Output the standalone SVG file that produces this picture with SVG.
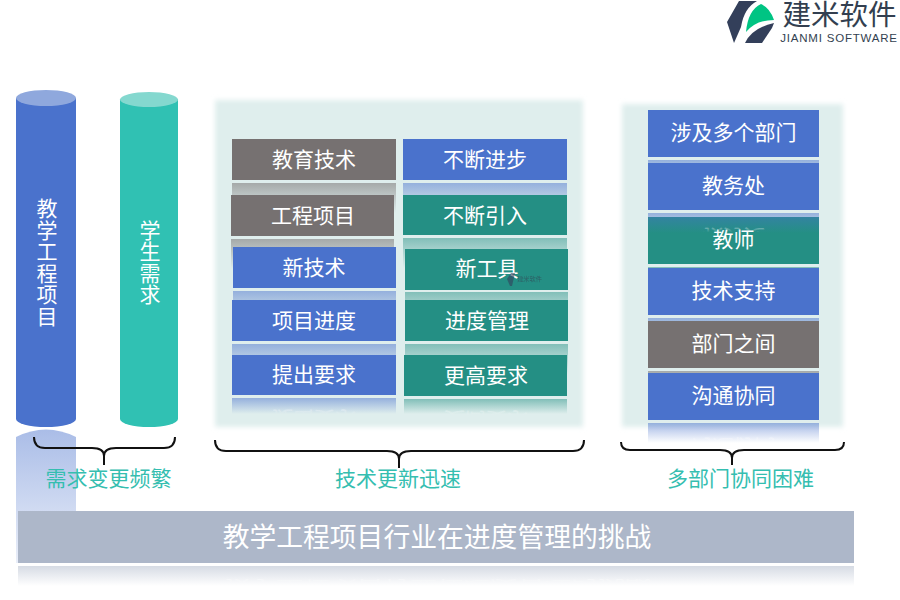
<svg xmlns="http://www.w3.org/2000/svg" width="900" height="600" viewBox="0 0 900 600">
<style>
text{font-family:"Noto Sans CJK SC","Liberation Sans",sans-serif;text-anchor:middle}
.t{font-size:21px;fill:#fff}
.v{font-size:21px;fill:#fff;writing-mode:vertical-rl;letter-spacing:.5px}
.m{font-size:21px;fill:url(#ft)}
.l{font-size:21px;fill:#35BEB0}
.gray{fill:#767171}.blue{fill:#4A72CC}.teal{fill:#248F84}
.rg{fill:url(#rg)}.rb{fill:url(#rb)}.rt{fill:url(#rt)}
.brace{fill:none;stroke:#111;stroke-width:2}
</style>
<defs>
<linearGradient id="ft" x1="0" y1="0" x2="0" y2="1"><stop offset=".72" stop-color="#fff" stop-opacity="0"/><stop offset="1" stop-color="#fff" stop-opacity=".6"/></linearGradient>
<linearGradient id="rg" x1="0" y1="0" x2="0" y2="1"><stop offset="0" stop-color="#767171" stop-opacity=".55"/><stop offset="1" stop-color="#767171" stop-opacity="0"/></linearGradient>
<linearGradient id="rb" x1="0" y1="0" x2="0" y2="1"><stop offset="0" stop-color="#4A72CC" stop-opacity=".5"/><stop offset="1" stop-color="#4A72CC" stop-opacity="0"/></linearGradient>
<linearGradient id="rt" x1="0" y1="0" x2="0" y2="1"><stop offset="0" stop-color="#248F84" stop-opacity=".5"/><stop offset="1" stop-color="#248F84" stop-opacity="0"/></linearGradient>
<linearGradient id="rbar" x1="0" y1="0" x2="0" y2="1"><stop offset="0" stop-color="#ADB7C9" stop-opacity=".5"/><stop offset="1" stop-color="#ADB7C9" stop-opacity="0"/></linearGradient>
<linearGradient id="rcyl" x1="0" y1="0" x2="0" y2="1"><stop offset="0" stop-color="#4A72CC" stop-opacity=".47"/><stop offset="1" stop-color="#4A72CC" stop-opacity=".12"/></linearGradient>
<filter id="soft" x="-5%" y="-5%" width="110%" height="110%"><feGaussianBlur stdDeviation="2.500"/></filter>
</defs>
<rect width="900" height="600" fill="#fff"/>

<g id="logo">
<path d="M727 22L739 1L757 1Q744 8 741 27L734 43Z" fill="#333F5A"/>
<path d="M746 32Q748 10 761 4Q770 8 774 20Q756 20 746 32Z" fill="#00C483"/>
<path d="M745 43Q752 28 774 23L772 28L762 43Z" fill="#333F5A"/>
<text x="839.500" y="25" style="font-size:28.500px;fill:#333F50">建米软件</text>
<text x="839" y="42" style="font-size:11.500px;letter-spacing:.8px;fill:#333F50;font-family:'Liberation Sans',sans-serif">JIANMI SOFTWARE</text>
</g>

<g id="cyl-reflection">
<path d="M16 437Q46 422 76 437V563H16Z" fill="url(#rcyl)"/>
</g>

<g id="cyl-project">
<path d="M16 98V419A30 8 0 0 0 76 419V98Z" class="blue"/>
<ellipse cx="46" cy="98" rx="30" ry="8" fill="#8FA8DD"/>
<text class="v" x="47" y="262.500">教学工程项目</text>
</g>
<g id="cyl-students">
<path d="M120 99V419A29 8 0 0 0 178 419V99Z" fill="#30C1B3"/>
<ellipse cx="149" cy="99.500" rx="29" ry="7.500" fill="#84D8CF"/>
<text class="v" x="150" y="262.500">学生需求</text>
</g>

<rect id="panel-tech" x="215" y="100" width="368" height="327" fill="#DFEEED" filter="url(#soft)"/>
<rect id="panel-dept" x="622" y="104" width="221" height="323" fill="#DFEEED" filter="url(#soft)"/>

<g id="node-jiaoyu"><rect x="232" y="183" width="164" height="30" class="rg"/><text class="m" x="314" y="166.500" transform="matrix(1 0 0 -1 0 365)">教育技术</text><rect x="232" y="139" width="164" height="41" class="gray"/><text class="t" x="314" y="166.500">教育技术</text></g>
<g id="node-buduan"><rect x="403" y="183" width="164" height="30" class="rb"/><text class="m" x="485" y="166.500" transform="matrix(1 0 0 -1 0 365)">不断进步</text><rect x="403" y="139" width="164" height="41" class="blue"/><text class="t" x="485" y="166.500">不断进步</text></g>
<g id="node-gongcheng"><rect x="231" y="239" width="163" height="30" class="rg"/><text class="m" x="313" y="222.500" transform="matrix(1 0 0 -1 0 477)">工程项目</text><rect x="231" y="195" width="163" height="41" class="gray"/><text class="t" x="313" y="222.500">工程项目</text></g>
<g id="node-yinru"><rect x="403" y="238" width="164" height="30" class="rt"/><text class="m" x="485" y="222.500" transform="matrix(1 0 0 -1 0 475)">不断引入</text><rect x="403" y="195" width="164" height="40" class="teal"/><text class="t" x="485" y="222.500">不断引入</text></g>
<g id="node-xinjishu"><rect x="233" y="291" width="163" height="30" class="rb"/><rect x="233" y="247" width="163" height="41" class="blue"/><text class="t" x="314" y="274.500">新技术</text></g>
<g id="node-xingongju"><rect x="405" y="292" width="163" height="30" class="rt"/><rect x="405" y="249" width="163" height="41" class="teal"/><text class="t" x="487" y="275.500">新工具</text>
<path d="M507 279L511 273L515 273L512 286L510 286Z" fill="#333F5A" opacity=".6"/><text x="529.500" y="281" style="font-size:6.200px;fill:#333F50" opacity=".6">建米软件</text></g>
<g id="node-jindu"><rect x="232" y="344" width="164" height="30" class="rb"/><rect x="232" y="300" width="164" height="41" class="blue"/><text class="t" x="314" y="327.500">项目进度</text></g>
<g id="node-jinduguanli"><rect x="405" y="344" width="163" height="30" class="rt"/><rect x="405" y="300" width="163" height="41" class="teal"/><text class="t" x="487" y="327.500">进度管理</text></g>
<g id="node-tichu"><rect x="232" y="398" width="164" height="16" class="rb"/><text class="m" x="314" y="381.500" transform="matrix(1 0 0 -1 0 793)">提出要求</text><rect x="232" y="355" width="164" height="40" class="blue"/><text class="t" x="314" y="381.500">提出要求</text></g>
<g id="node-genggao"><rect x="404" y="399" width="163" height="15" class="rt"/><text class="m" x="486" y="382.500" transform="matrix(1 0 0 -1 0 795)">更高要求</text><rect x="404" y="355" width="163" height="41" class="teal"/><text class="t" x="486" y="382.500">更高要求</text></g>

<g id="node-shibu"><rect x="648" y="110" width="171" height="47" class="blue"/><rect x="648" y="160" width="171" height="20" class="rb"/><text class="t" x="733.500" y="140">涉及多个部门</text></g>
<g id="node-jiaoshi"><rect x="648" y="217" width="171" height="47" class="teal"/><rect x="648" y="267" width="171" height="20" class="rt"/><text class="t" x="733.500" y="247">教师</text></g>
<g id="node-jiaowu"><rect x="648" y="213" width="171" height="20" class="rb"/><text class="m" x="733.500" y="193" transform="matrix(1 0 0 -1 0 423)">教务处</text><rect x="648" y="163" width="171" height="47" class="blue"/><text class="t" x="733.500" y="193">教务处</text></g>
<g id="node-jishu"><rect x="648" y="318" width="171" height="20" class="rb"/><rect x="648" y="268" width="171" height="47" class="blue"/><text class="t" x="733.500" y="298">技术支持</text></g>
<g id="node-bumen"><rect x="648" y="371" width="171" height="20" class="rg"/><rect x="648" y="321" width="171" height="47" class="gray"/><text class="t" x="733.500" y="351">部门之间</text></g>
<g id="node-goutong"><rect x="648" y="423" width="171" height="20" class="rb"/><text class="m" x="733.500" y="403" transform="matrix(1 0 0 -1 0 843)">沟通协同</text><rect x="648" y="373" width="171" height="47" class="blue"/><text class="t" x="733.500" y="403">沟通协同</text></g>

<g id="connectors">
<path class="brace" d="M34 437Q34 448 45 448H92Q104 448 104 456V465M104 456Q104 448 116 448H164Q175 448 175 437"/>
<path class="brace" d="M215 440Q215 451 226 451H387Q399 451 399 459V468M399 459Q399 451 411 451H573Q584 451 584 440"/>
<path class="brace" d="M621 442Q621 450 630 450H720Q732 450 732 458V465M732 458Q732 450 744 450H835Q844 450 844 442"/>
</g>

<g id="label-xuqiu"><text class="l" x="108.500" y="485.500">需求变更频繁</text></g>
<g id="label-jishu"><text class="l" x="398" y="485.500">技术更新迅速</text></g>
<g id="label-duobumen"><text class="l" x="740.500" y="485.500">多部门协同困难</text></g>

<g id="node-title">
<rect x="18" y="566" width="836" height="20" fill="url(#rbar)"/>
<text x="437" y="547" transform="matrix(1 0 0 -.55 0 881.500)" style="font-size:26.800px;fill:url(#ft)">教学工程项目行业在进度管理的挑战</text>
<rect x="18" y="511" width="836" height="52" fill="#ADB7C9"/>
<text x="437" y="547" style="font-size:26.800px;fill:#fff">教学工程项目行业在进度管理的挑战</text>
</g>
</svg>
